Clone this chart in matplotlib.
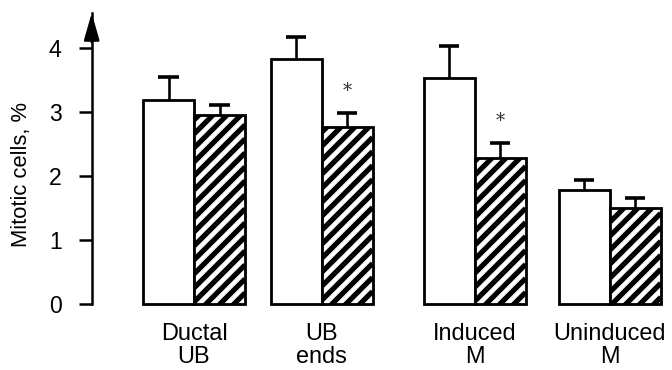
import numpy as np
import matplotlib
matplotlib.use("Agg")
import matplotlib.pyplot as plt
from matplotlib.transforms import IdentityTransform

# data
groups = ["Ductal\nUB", "UB\nends", "Induced\nM", "Uninduced\nM"]
control = [3.18, 3.83, 3.52, 1.78]
control_err = [0.36, 0.34, 0.50, 0.16]
treated = [2.95, 2.76, 2.28, 1.50]
treated_err = [0.16, 0.22, 0.23, 0.15]
signif = [False, True, True, False]
yticks = [0, 1, 2, 3, 4]

plt.rcParams["font.family"] = ["Liberation Sans", "DejaVu Sans"]

fig = plt.figure(figsize=(672 / 72, 370 / 72), dpi=72)
ax = fig.add_axes([91.7 / 672, 1 - 304.3 / 370, 1 - 91.7 / 672, (304.3 - 13) / 370])
ax.set_xlim(-2.006, 9.37)
ax.set_ylim(0, 4.54)

pos = np.array([0, 2.5, 5.5, 8.15])
w = 1.0

ax.bar(pos - w / 2, control, w, color="white", edgecolor="black", linewidth=2.8, clip_on=False, zorder=2)
hb = ax.bar(pos + w / 2, treated, w, color="white", edgecolor="none", zorder=2)

# diagonal stripes, drawn by hand so the spacing matches
step = 14.0
for rect in hb:
    x0, y0 = ax.transData.transform((rect.get_x(), 0))
    x1, y1 = ax.transData.transform((rect.get_x() + rect.get_width(), rect.get_height()))
    k0 = np.floor((y0 - x1) / step) - 1
    k1 = np.ceil((y1 - x0) / step) + 1
    for k in np.arange(k0, k1 + 1):
        c = k * step  # line y = x + c
        ln, = ax.plot([x0, x1], [x0 + c, x1 + c], color="black", lw=5.2,
                      transform=IdentityTransform(), zorder=2.5, solid_capstyle="butt")
        ln.set_clip_path(rect)

ax.bar(pos + w / 2, treated, w, fill=False, edgecolor="black", linewidth=2.8, clip_on=False, zorder=3)

# upper-only error bars
cap = 0.2
for xs, vals, errs in [(pos - w / 2, control, control_err), (pos + w / 2, treated, treated_err)]:
    tops = np.array(vals) + np.array(errs)
    ax.vlines(xs, vals, tops, color="black", lw=2.6, zorder=1)
    ax.hlines(tops, xs - cap, xs + cap, color="black", lw=3.6, zorder=1)

for p, v, e, s in zip(pos, treated, treated_err, signif):
    if s:
        ax.text(p + w / 2, v + e + 0.34, "*", ha="center", va="center", fontsize=18,
                family="DejaVu Serif", color="#333333")

ax.set_yticks(yticks)
ax.set_yticklabels([str(t) for t in yticks], fontsize=23)
ax.tick_params(axis="y", length=13, width=2.5, pad=17, direction="out")
ax.set_xticks(pos)
ax.set_xticklabels(groups, fontsize=23.5, linespacing=1.05)
ax.tick_params(axis="x", length=0, pad=19)

for s in ["top", "right", "bottom"]:
    ax.spines[s].set_visible(False)
ax.spines["left"].set_linewidth(2.5)

ax.annotate("", xy=(0, 1.0), xytext=(0, 0.9), xycoords="axes fraction",
            arrowprops=dict(arrowstyle="-|>,head_length=1.15,head_width=0.33",
                            lw=2.5, color="black", mutation_scale=20, shrinkA=0, shrinkB=0))

ax.set_ylabel("Mitotic cells, %", fontsize=22)
ax.yaxis.set_label_coords(-0.103, 0.444)

fig.savefig("out.png", dpi=72)
